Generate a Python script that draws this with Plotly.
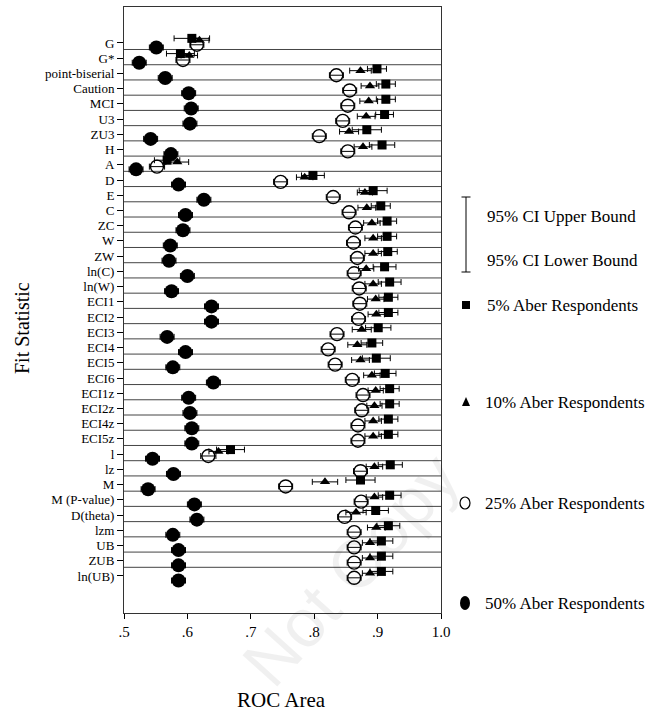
import plotly.graph_objects as go

# ---------------- data ----------------
labels = ["G", "G*", "point-biserial", "Caution", "MCI", "U3", "ZU3", "H", "A", "D",
          "E", "C", "ZC", "W", "ZW", "ln(C)", "ln(W)", "ECI1", "ECI2", "ECI3",
          "ECI4", "ECI5", "ECI6", "ECI1z", "ECI2z", "ECI4z", "ECI5z", "l", "lz", "M",
          "M (P-value)", "D(theta)", "lzm", "UB", "ZUB", "ln(UB)"]

aber5 = [0.607, 0.589, 0.899, 0.913, 0.913, 0.911, 0.883, 0.907, 0.568, 0.798,
         0.893, 0.905, 0.915, 0.915, 0.916, 0.911, 0.919, 0.917, 0.917, 0.901,
         0.891, 0.898, 0.912, 0.919, 0.919, 0.917, 0.917, 0.668, 0.920, 0.873,
         0.919, 0.897, 0.917, 0.906, 0.906, 0.906]
aber5_ci = [0.028, 0.022, 0.015, 0.015, 0.015, 0.014, 0.023, 0.020, 0.020, 0.018,
            0.022, 0.015, 0.015, 0.015, 0.015, 0.018, 0.018, 0.015, 0.015, 0.020,
            0.017, 0.022, 0.017, 0.015, 0.015, 0.015, 0.015, 0.022, 0.019, 0.023,
            0.018, 0.020, 0.018, 0.018, 0.018, 0.018]

aber10 = [0.619, 0.603, 0.873, 0.888, 0.886, 0.882, 0.855, 0.877, 0.584, 0.785,
          0.880, 0.883, 0.891, 0.893, 0.893, 0.882, 0.893, 0.897, 0.898, 0.875,
          0.868, 0.873, 0.891, 0.897, 0.895, 0.893, 0.893, 0.649, 0.895, 0.817,
          0.895, 0.866, 0.898, 0.888, 0.888, 0.888]
aber10_ci = [0.015, 0.013, 0.017, 0.014, 0.014, 0.014, 0.015, 0.014, 0.018, 0.013,
             0.012, 0.014, 0.013, 0.013, 0.013, 0.012, 0.013, 0.013, 0.013, 0.015,
             0.015, 0.014, 0.013, 0.012, 0.012, 0.013, 0.013, 0.015, 0.013, 0.020,
             0.013, 0.016, 0.014, 0.012, 0.012, 0.012]

aber25 = [0.615, 0.593, 0.835, 0.856, 0.853, 0.845, 0.808, 0.853, 0.552, 0.747,
          0.830, 0.855, 0.865, 0.862, 0.868, 0.863, 0.871, 0.872, 0.870, 0.836,
          0.822, 0.833, 0.860, 0.877, 0.875, 0.869, 0.869, 0.633, 0.873, 0.755,
          0.874, 0.848, 0.863, 0.863, 0.863, 0.863]
aber25_ci = [0.011, 0.011, 0.011, 0.011, 0.011, 0.011, 0.011, 0.011, 0.012, 0.011,
             0.011, 0.011, 0.011, 0.011, 0.011, 0.011, 0.011, 0.011, 0.011, 0.011,
             0.011, 0.011, 0.011, 0.011, 0.011, 0.011, 0.011, 0.012, 0.011, 0.011,
             0.011, 0.011, 0.011, 0.011, 0.011, 0.011]

aber50 = [0.551, 0.524, 0.565, 0.602, 0.606, 0.604, 0.542, 0.574, 0.519, 0.586,
          0.626, 0.597, 0.593, 0.573, 0.571, 0.600, 0.575, 0.638, 0.638, 0.568,
          0.597, 0.577, 0.641, 0.602, 0.604, 0.607, 0.607, 0.545, 0.578, 0.538,
          0.611, 0.615, 0.577, 0.586, 0.586, 0.586]
aber50_ci = [0.011] * len(labels)

x_ticks = [0.5, 0.6, 0.7, 0.8, 0.9, 1.0]
x_ticktext = [".5", ".6", ".7", ".8", ".9", "1.0"]

legend_texts = ["95% CI Upper Bound", "95% CI Lower Bound", "5% Aber Respondents",
                "10% Aber Respondents", "25% Aber Respondents", "50% Aber Respondents"]

# ---------------- layout helpers ----------------
W, H = 651, 725
L, R, T, B = 124, 210, 7, 112
PW, PH = W - L - R, H - T - B
FONT = "Liberation Serif"


def px(x):
    return (x - L) / PW


def py(y):
    return (H - B - y) / PH


n = len(labels)
idx = list(range(n))

fig = go.Figure()


def add_series(vals, ci, dy, symbol, size, lw=0):
    fig.add_trace(go.Scatter(
        x=vals, y=[i + dy for i in idx], mode="markers",
        marker=dict(symbol=symbol, size=size, color="black",
                    line=dict(color="black", width=lw)),
        error_x=dict(type="data", array=ci, color="black", thickness=1, width=3),
        showlegend=False, hoverinfo="skip"))


add_series(aber50, aber50_ci, 0.30, "circle", 14)
add_series(aber25, aber25_ci, 0.12, "circle-open", 13, 1.4)
add_series(aber10, aber10_ci, -0.18, "triangle-up", 9)
add_series(aber5, aber5_ci, -0.30, "square", 9)

shapes = []
for k in range(n - 1):
    shapes.append(dict(type="line", xref="paper", yref="y", x0=0, x1=1,
                       y0=k + 0.43, y1=k + 0.43, line=dict(color="#444", width=1),
                       layer="below"))

# legend glyphs (paper coords)
lx = 466
shapes.append(dict(type="line", xref="paper", yref="paper", x0=px(lx), x1=px(lx),
                   y0=py(197), y1=py(272), line=dict(color="black", width=1)))
for yy in (197, 272):
    shapes.append(dict(type="line", xref="paper", yref="paper", x0=px(lx - 4.5), x1=px(lx + 4.5),
                       y0=py(yy), y1=py(yy), line=dict(color="black", width=1)))
shapes.append(dict(type="rect", xref="paper", yref="paper", x0=px(462), x1=px(470),
                   y0=py(309), y1=py(301), fillcolor="black", line=dict(width=0)))
shapes.append(dict(type="path", xref="paper", yref="paper",
                   path=f"M {px(466)} {py(397)} L {px(462)} {py(406)} L {px(470)} {py(406)} Z",
                   fillcolor="black", line=dict(width=0)))
shapes.append(dict(type="circle", xref="paper", yref="paper", x0=px(460), x1=px(470),
                   y0=py(509), y1=py(497), line=dict(color="black", width=1.2)))
shapes.append(dict(type="circle", xref="paper", yref="paper", x0=px(460), x1=px(470),
                   y0=py(610), y1=py(596), fillcolor="black", line=dict(width=0)))

annotations = []
leg_pos = [(485, 217), (485, 260), (485, 305), (483, 402), (483, 503), (483, 603)]
for t, (ax_, ay_) in zip(legend_texts, leg_pos):
    annotations.append(dict(text=t, xref="paper", yref="paper", x=px(ax_), y=py(ay_),
                            xanchor="left", yanchor="middle", showarrow=False,
                            font=dict(family=FONT, size=17, color="black")))

annotations.append(dict(text="Fit Statistic", xref="paper", yref="paper", x=px(22), y=py(328),
                        textangle=-90, showarrow=False, xanchor="center", yanchor="middle",
                        font=dict(family=FONT, size=20, color="black")))
annotations.append(dict(text="ROC Area", xref="paper", yref="paper", x=px(281), y=py(700),
                        showarrow=False, xanchor="center", yanchor="middle",
                        font=dict(family=FONT, size=21, color="black")))
# faint watermark
annotations.append(dict(text="Not Copy", xref="paper", yref="paper", x=px(350), y=py(570),
                        textangle=-48, showarrow=False, xanchor="center", yanchor="middle",
                        font=dict(family="Liberation Sans", size=68, color="rgba(0,0,0,0.06)")))

fig.update_layout(
    width=W, height=H, margin=dict(l=L, r=R, t=T, b=B, pad=0),
    plot_bgcolor="white", paper_bgcolor="white",
    shapes=shapes, annotations=annotations, showlegend=False,
    xaxis=dict(range=[0.5, 1.0], tickvals=x_ticks, ticktext=x_ticktext,
               ticks="outside", ticklen=5, tickcolor="black", showgrid=False,
               zeroline=False, showline=True, linecolor="#333", linewidth=1, mirror=True,
               tickfont=dict(family=FONT, size=15, color="black")),
    yaxis=dict(range=[37.43, -2.36], tickvals=idx, ticktext=labels,
               ticks="outside", ticklen=6, tickcolor="black", showgrid=False,
               zeroline=False, showline=True, linecolor="#333", linewidth=1, mirror=True,
               tickfont=dict(family=FONT, size=13, color="black")),
)

fig.write_html("out.html")
